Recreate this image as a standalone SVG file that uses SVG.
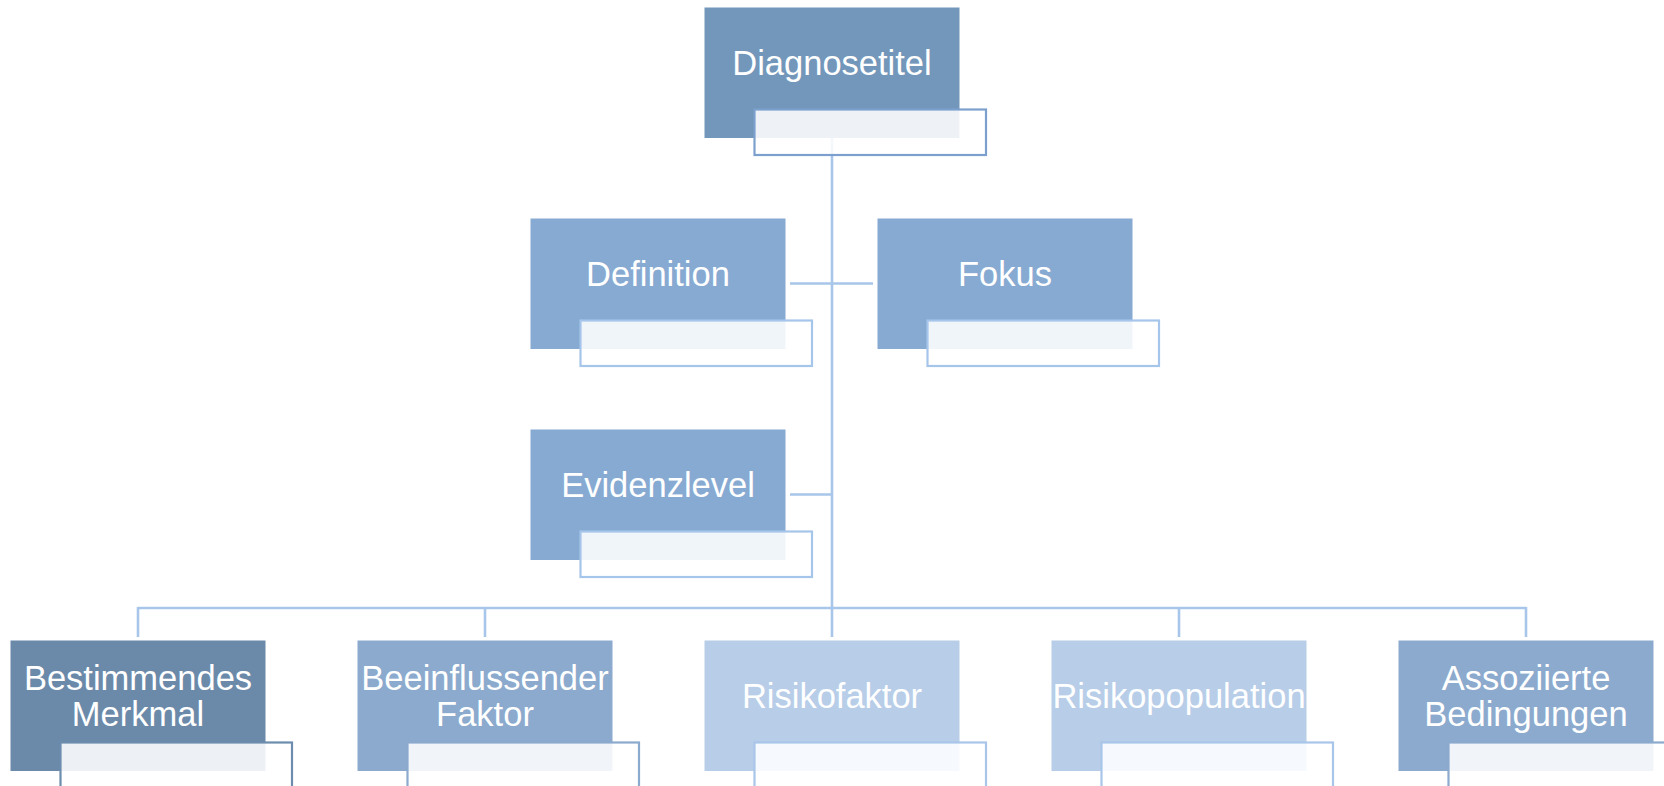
<svg xmlns="http://www.w3.org/2000/svg" width="1664" height="786" viewBox="0 0 1664 786">
<style>
.lbl{font-family:"Liberation Sans",Arial,sans-serif;font-size:34.5px;fill:#ffffff;text-anchor:middle}
.sub{fill:#ffffff;fill-opacity:0.88;stroke-width:2.2}
.conn{stroke:#A7C6EA;stroke-width:2.6;fill:none}
</style>
<rect width="1664" height="786" fill="#ffffff"/>
<g id="connectors">
<line class="conn" x1="832" y1="138" x2="832" y2="637"/>
<line class="conn" x1="790" y1="283.5" x2="873" y2="283.5"/>
<line class="conn" x1="790" y1="494.5" x2="832" y2="494.5"/>
<line class="conn" x1="138" y1="608" x2="1526" y2="608"/>
<line class="conn" x1="138" y1="607" x2="138" y2="637"/>
<line class="conn" x1="485" y1="607" x2="485" y2="637"/>
<line class="conn" x1="1179" y1="607" x2="1179" y2="637"/>
<line class="conn" x1="1526" y1="607" x2="1526" y2="637"/>
</g>
<g id="node-diagnosetitel">
<rect x="704.5" y="7.5" width="255" height="130.5" fill="#7397BA"/>
<text class="lbl" x="832" y="75">Diagnosetitel</text>
<rect class="sub" x="754.5" y="109.5" width="231.5" height="45.5" stroke="#7CA0CD"/>
</g>
<g id="node-definition">
<rect x="530.5" y="218.5" width="255" height="130.5" fill="#87AAD2"/>
<text class="lbl" x="658" y="286">Definition</text>
<rect class="sub" x="580.5" y="320.5" width="231.5" height="45.5" stroke="#A6C5EA"/>
</g>
<g id="node-fokus">
<rect x="877.5" y="218.5" width="255" height="130.5" fill="#87AAD2"/>
<text class="lbl" x="1005" y="286">Fokus</text>
<rect class="sub" x="927.5" y="320.5" width="231.5" height="45.5" stroke="#A6C5EA"/>
</g>
<g id="node-evidenzlevel">
<rect x="530.5" y="429.5" width="255" height="130.5" fill="#87AAD2"/>
<text class="lbl" x="658" y="497">Evidenzlevel</text>
<rect class="sub" x="580.5" y="531.5" width="231.5" height="45.5" stroke="#A6C5EA"/>
</g>
<g id="node-bestimmendes-merkmal">
<rect x="10.5" y="640.5" width="255" height="130.5" fill="#6B8AAA"/>
<text class="lbl" x="138" y="690">Bestimmendes</text>
<text class="lbl" x="138" y="726">Merkmal</text>
<rect class="sub" x="60.5" y="742.5" width="231.5" height="45.5" stroke="#6D8DAE"/>
</g>
<g id="node-beeinflussender-faktor">
<rect x="357.5" y="640.5" width="255" height="130.5" fill="#8BAACD"/>
<text class="lbl" x="485" y="690">Beeinflussender</text>
<text class="lbl" x="485" y="726">Faktor</text>
<rect class="sub" x="407.5" y="742.5" width="231.5" height="45.5" stroke="#8BAACD"/>
</g>
<g id="node-risikofaktor">
<rect x="704.5" y="640.5" width="255" height="130.5" fill="#B7CDE8"/>
<text class="lbl" x="832" y="708">Risikofaktor</text>
<rect class="sub" x="754.5" y="742.5" width="231.5" height="45.5" stroke="#A9C6EA"/>
</g>
<g id="node-risikopopulation">
<rect x="1051.5" y="640.5" width="255" height="130.5" fill="#B7CDE8"/>
<text class="lbl" x="1179" y="708">Risikopopulation</text>
<rect class="sub" x="1101.5" y="742.5" width="231.5" height="45.5" stroke="#A9C6EA"/>
</g>
<g id="node-assoziierte-bedingungen">
<rect x="1398.5" y="640.5" width="255" height="130.5" fill="#8BAACD"/>
<text class="lbl" x="1526" y="690">Assoziierte</text>
<text class="lbl" x="1526" y="726">Bedingungen</text>
<rect class="sub" x="1448.5" y="742.5" width="231.5" height="45.5" stroke="#8BAACD"/>
</g>
</svg>
